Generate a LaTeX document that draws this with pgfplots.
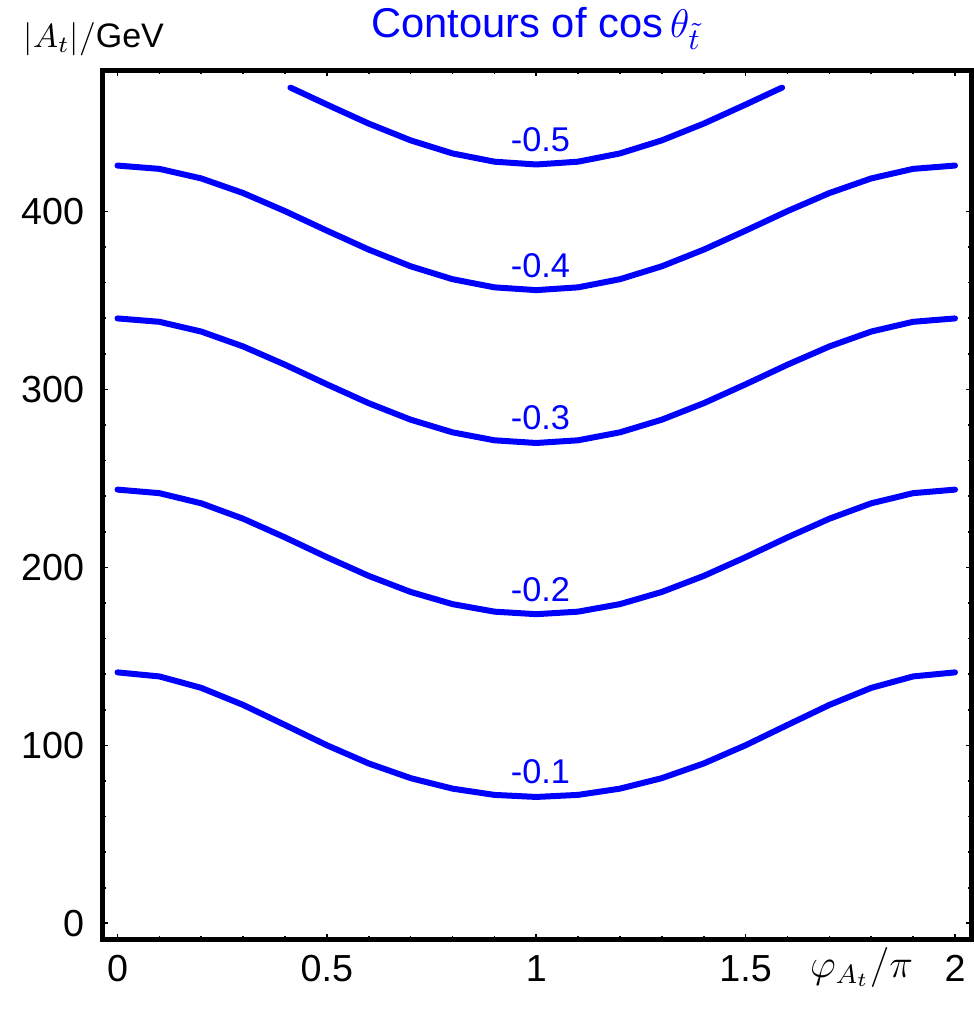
\documentclass[border=0pt]{standalone}
\usepackage{pgfplots}
\pgfplotsset{compat=1.18}
\usepackage{fontspec}
\setmainfont{Liberation Sans}
\begin{document}
\begin{tikzpicture}
\begin{axis}[
 scale only axis, width=260.7pt, height=260.8pt,
 xmin=-0.0358, xmax=2.0394, ymin=-9.1, ymax=479.4,
 axis line style={line width=1.4pt},
 xtick={0,0.5,1,1.5,2}, ytick={0,100,200,300,400},
 minor x tick num=4, minor y tick num=4,
 tick align=inside, major tick length=1.6pt, minor tick length=1.1pt,
 every tick/.style={black, line width=0.5pt},
 ticklabel style={font=\fontsize{11.3}{13}\selectfont},
 /pgf/number format/assume math mode=true,
 xticklabel style={yshift=-1.3pt},
 yticklabel style={xshift=-2pt},
 clip=false,
 curve/.style={blue, no marks, line width=1.8pt, line cap=round, line join=round},
]
% -0.1
\addplot[curve] coordinates {(0,141.00)(0.1,138.73)(0.2,132.30)(0.3,122.72)(0.4,111.45)(0.5,100.06)(0.6,89.82)(0.7,81.58)(0.8,75.67)(0.9,72.16)(1,71.00)(1.1,72.16)(1.2,75.67)(1.3,81.58)(1.4,89.82)(1.5,100.06)(1.6,111.45)(1.7,122.72)(1.8,132.30)(1.9,138.73)(2,141.00)};
% -0.2
\addplot[curve] coordinates {(0,243.70)(0.1,241.71)(0.2,236.00)(0.3,227.34)(0.4,216.85)(0.5,205.74)(0.6,195.21)(0.7,186.20)(0.8,179.36)(0.9,175.13)(1,173.70)(1.1,175.13)(1.2,179.36)(1.3,186.20)(1.4,195.21)(1.5,205.74)(1.6,216.85)(1.7,227.34)(1.8,236.00)(1.9,241.71)(2,243.70)};
% -0.3
\addplot[curve] coordinates {(0,339.90)(0.1,338.00)(0.2,332.52)(0.3,324.15)(0.4,313.90)(0.5,302.88)(0.6,292.26)(0.7,283.01)(0.8,275.89)(0.9,271.42)(1,269.90)(1.1,271.42)(1.2,275.89)(1.3,283.01)(1.4,292.26)(1.5,302.88)(1.6,313.90)(1.7,324.15)(1.8,332.52)(1.9,338.00)(2,339.90)};
% -0.4
\addplot[curve] coordinates {(0,425.80)(0.1,423.94)(0.2,418.57)(0.3,410.35)(0.4,400.20)(0.5,389.23)(0.6,378.56)(0.7,369.20)(0.8,361.94)(0.9,357.36)(1,355.80)(1.1,357.36)(1.2,361.94)(1.3,369.20)(1.4,378.56)(1.5,389.23)(1.6,400.20)(1.7,410.35)(1.8,418.57)(1.9,423.94)(2,425.80)};
% -0.5
\addplot[curve] coordinates {(0.413,469.60)(0.45,465.58)(0.5,460.07)(0.6,449.38)(0.7,439.96)(0.8,432.62)(0.9,427.98)(1,426.40)(1.1,427.98)(1.2,432.62)(1.3,439.96)(1.4,449.38)(1.5,460.07)(1.55,465.58)(1.587,469.60)};
\begin{scope}[every node/.style={blue, font=\fontsize{10.3}{12}\selectfont}]
\node at (axis cs:1.01,85) {-0.1};
\node at (axis cs:1.01,187.7) {-0.2};
\node at (axis cs:1.01,283.9) {-0.3};
\node at (axis cs:1.01,369.8) {-0.4};
\node at (axis cs:1.01,440.6) {-0.5};
\end{scope}
\node[anchor=base, blue, font=\fontsize{12.5}{14}\selectfont] at (axis cs:1,497.9) {Contours of cos\,$\theta_{\tilde{t}}$};
\node[anchor=base west, inner sep=0pt, font=\fontsize{10.2}{12}\selectfont] at (axis cs:-0.225,492.3) {$|A_t|/$GeV};
\node[anchor=base, font=\fontsize{11.5}{13}\selectfont] at (axis cs:1.777,-30.2) {$\varphi_{A_t}/\pi$};
\end{axis}
\pgfresetboundingbox
\path ([shift={(-30.75pt,-21.15pt)}]current axis.south west) rectangle ([shift={(261.45pt,281.85pt)}]current axis.south west);
\end{tikzpicture}
\end{document}
